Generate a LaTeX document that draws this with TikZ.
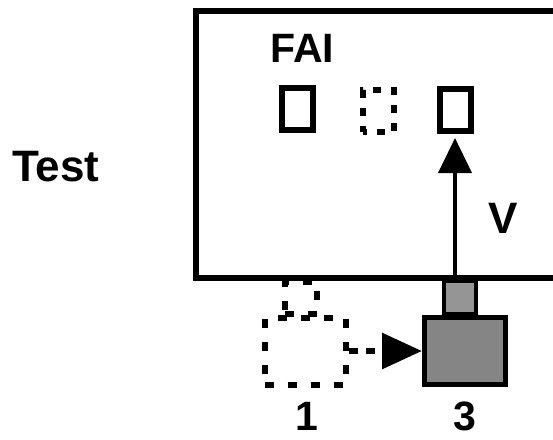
\documentclass[tikz,border=0pt]{standalone}
\usepackage{fontspec}
\setmainfont{Liberation Sans}
\usepackage{xcolor}
\usepackage{tikz}
\usetikzlibrary{arrows.meta}
\definecolor{cubegray}{HTML}{858585}
\definecolor{stubgray}{HTML}{959595}

\begin{document}
\begin{tikzpicture}[x=1pt, y=-1pt,
  lbl/.style={inner sep=0pt, font=\fontsize{44}{44}\selectfont\bfseries},
  slot/.style={draw, line width=6pt, minimum width=31pt, minimum height=42pt, inner sep=0pt},
  cube/.style={draw, line width=5pt, minimum width=81pt, minimum height=67pt, inner sep=0pt},
  stub/.style={draw, line width=3.5pt, minimum width=32pt, minimum height=32pt, inner sep=0pt},
  ghostline/.style={line width=6pt, dash pattern=on 9pt off 14pt}]

\useasboundingbox (0,0) rectangle (553,439);

% ---------------- labels -------------------------------------------------
\node[lbl, anchor=base west] (test) at (12,181) {Test};
\node[lbl, font=\fontsize{41}{41}\selectfont\bfseries, anchor=base west] (fai) at (270,62) {FAI};
\node[lbl, anchor=base west] (vlbl) at (488,233) {V};
\node[lbl, font=\fontsize{41}{41}\selectfont\bfseries, anchor=base] (one) at (307,430) {1};
\node[lbl, font=\fontsize{41}{41}\selectfont\bfseries, anchor=base] (three) at (465,430) {3};

% ---------------- slots inside the field ---------------------------------
\node[slot] (slotA) at (297.5,109) {};
\node[slot, dash pattern=on 8pt off 10pt, dash phase=4pt] (slotB) at (378,110.5) {};
\node[slot] (slotC) at (455,110) {};

% ---------------- moved part (gray) and its old place (dashed) -----------
\node[stub, fill=stubgray] (stubC) at (460,297.5) {};
\node[cube, fill=cubegray] (cubeC) at (465,351) {};
\node[stub, ghostline] (stubG) at (301,297.5) {};
\node[cube, ghostline, fill=white] (cubeG) at (305,351) {};

% ---------------- field frame --------------------------------------------
\draw[line width=6pt] (560,11) -- (196,11) -- (196,278) -- (560,278);

% ---------------- arrows -------------------------------------------------
\draw[line width=4pt, -{Triangle[length=35pt, width=33pt]}, shorten >=4pt]
  (slotC.south |- stubC.north) -- (slotC.south);
\draw[line width=6pt, dash pattern=on 9pt off 8pt, -{Triangle[length=40pt, width=35pt]}]
  (cubeG.east) -- (cubeC.west);

\end{tikzpicture}
\end{document}
